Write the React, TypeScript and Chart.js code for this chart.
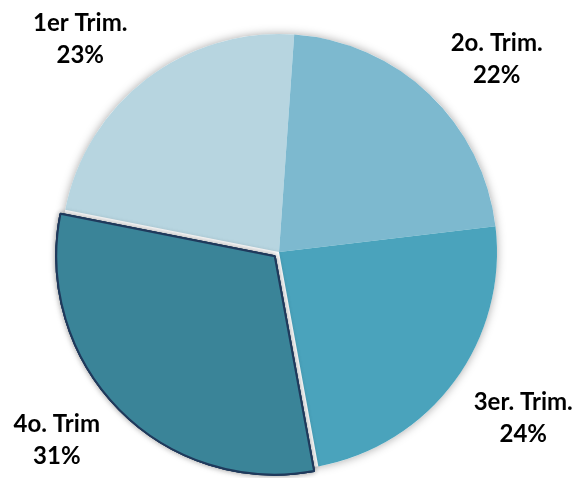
import React, { useEffect, useRef } from 'react';
import { Chart, registerables } from 'chart.js';

Chart.register(...registerables);

const categories = ['1er Trim.', '2o. Trim.', '3er. Trim.', '4o. Trim'];
const values = [23, 22, 24, 31];
const percentLabels = ['23%', '22%', '24%', '31%'];
const colors = ['#b7d5e0', '#7db9cf', '#4aa3bc', '#3a8498'];
const borderColors = ['#b7d5e0', '#7db9cf', '#4aa3bc', '#1f3a5c'];
const borderWidths = [0, 0, 0, 2];
const explode = [0, 0, 0, 24];
const startAngleDeg = 281.2;
const labelDistance = 291;
const labelNudges = [
  [-22, 18],
  [17, 18],
  [10, -7],
  [-15, -16],
];

const FONT = 'bold 24px Lato';

const piePlugin = {
  id: 'piePlugin',
  beforeDatasetsDraw(chart: any) {
    const ctx = chart.ctx;
    const meta = chart.getDatasetMeta(0);
    const arc = meta.data[0];
    if (!arc) return;
    const { x, y, outerRadius } = arc.getProps(['x', 'y', 'outerRadius'], true);
    ctx.save();
    ctx.shadowColor = 'rgba(0,0,0,0.35)';
    ctx.shadowBlur = 10;
    ctx.fillStyle = '#ffffff';
    ctx.beginPath();
    ctx.arc(x, y, outerRadius, 0, Math.PI * 2);
    ctx.fill();
    ctx.restore();
  },
  afterDatasetsDraw(chart: any) {
    const ctx = chart.ctx;
    const meta = chart.getDatasetMeta(0);
    meta.data.forEach((arc: any, i: number) => {
      if (!explode[i]) return;
      ctx.save();
      ctx.shadowColor = 'rgba(0,0,0,0.35)';
      ctx.shadowBlur = 6;
      arc.draw(ctx);
      ctx.restore();
      ctx.save();
      arc.draw(ctx);
      ctx.restore();
    });
    ctx.save();
    ctx.font = FONT;
    ctx.fillStyle = '#000000';
    ctx.textAlign = 'center';
    ctx.textBaseline = 'alphabetic';
    meta.data.forEach((arc: any, i: number) => {
      const { x, y, startAngle, endAngle } = arc.getProps(['x', 'y', 'startAngle', 'endAngle'], true);
      const mid = (startAngle + endAngle) / 2;
      const cx = x + Math.cos(mid) * labelDistance + labelNudges[i][0];
      const cy = y + Math.sin(mid) * labelDistance + labelNudges[i][1];
      ctx.fillText(categories[i], cx, cy - 8);
      ctx.fillText(percentLabels[i], cx, cy + 24);
    });
    ctx.restore();
  },
};

export default function App() {
  const ref = useRef<HTMLCanvasElement | null>(null);
  useEffect(() => {
    if (!ref.current) return;
    const chart = new Chart(ref.current, {
      type: 'pie',
      data: {
        labels: categories,
        datasets: [
          {
            data: values,
            backgroundColor: colors,
            borderColor: borderColors,
            borderWidth: borderWidths,
            offset: explode,
          },
        ],
      },
      options: {
        animation: false,
        responsive: false,
        rotation: startAngleDeg,
        radius: 218,
        layout: { padding: { left: 0, right: 20, top: 26, bottom: 0 } },
        plugins: {
          legend: { display: false },
          tooltip: { enabled: false },
        },
      } as any,
      plugins: [piePlugin],
    });
    return () => chart.destroy();
  }, []);
  return (
    <div style={{ position: 'fixed', left: 0, top: 0, width: 578, height: 478, background: '#fff' }}>
      <canvas ref={ref} width={578} height={478} />
    </div>
  );
}
